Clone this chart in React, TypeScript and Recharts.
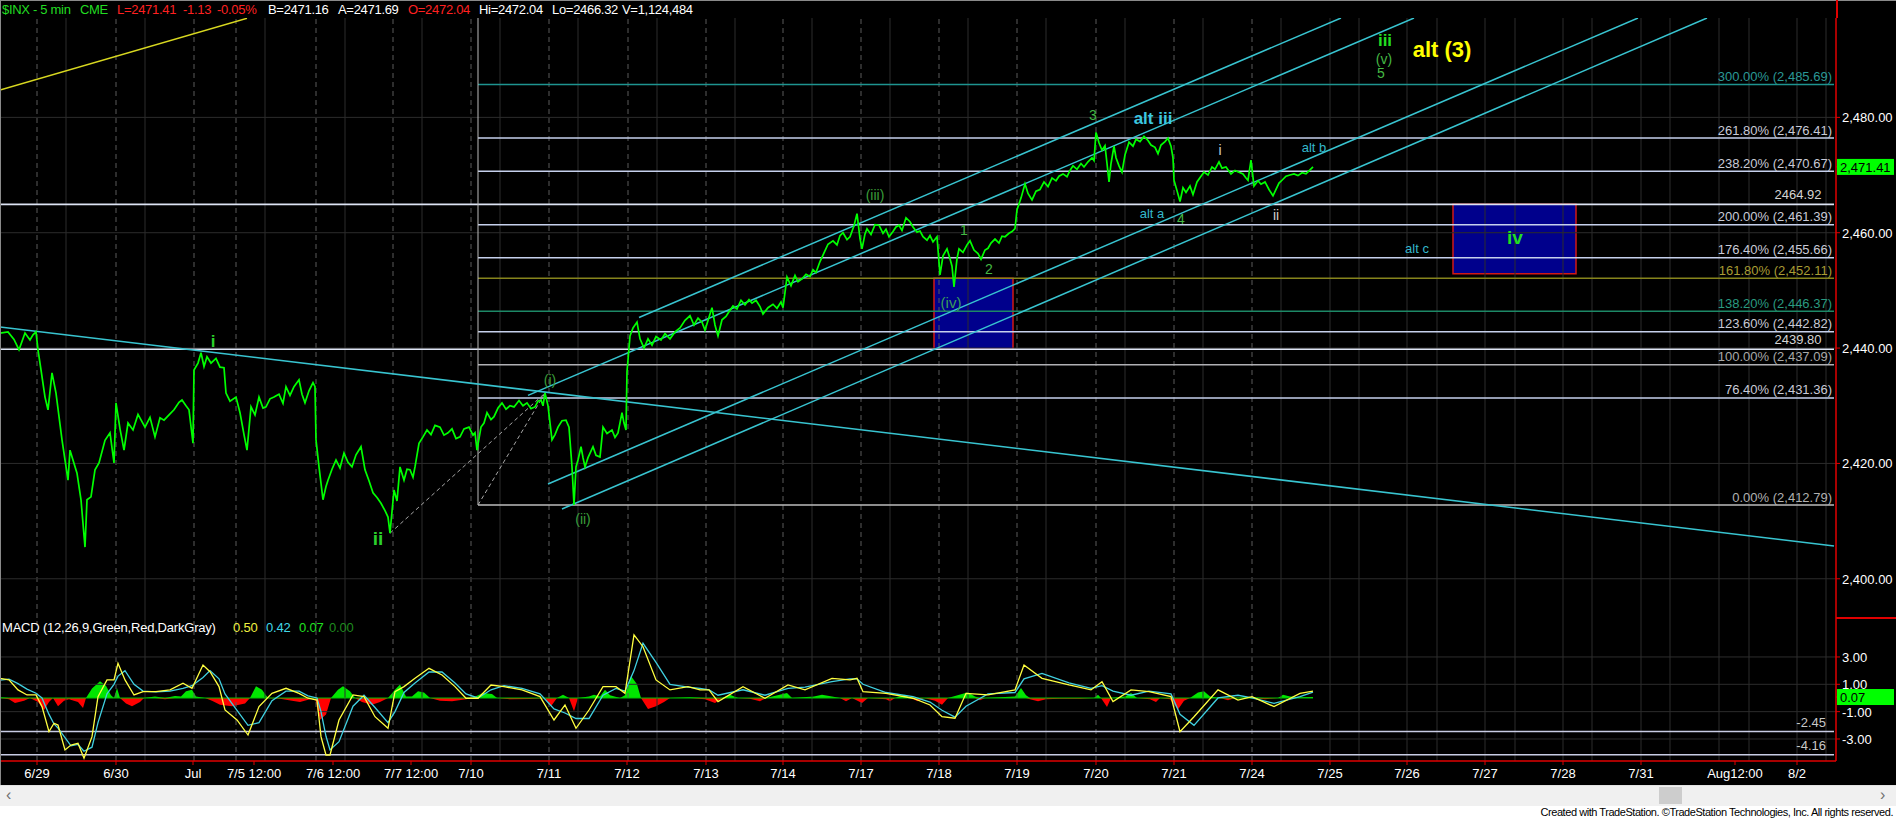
import React from "react"
import {
  ComposedChart,
  Line,
  Area,
  XAxis,
  YAxis,
  ReferenceLine,
  ReferenceArea,
  ReferenceDot,
} from "recharts"

const FONT = '"Liberation Sans", Arial, Helvetica, sans-serif'

// $INX 5-min closes: [bar number, close]  (one bar = one 5-minute period)
const inxCloses: [number, number][] = [
  [0, 2442.6], [8, 2442.8], [14, 2441.5], [19, 2439.7], [25, 2442.6], [30, 2441.4], [33, 2442.3], [36, 2442.8], [38, 2439.7], [41, 2436.2],
  [45, 2431.5], [48, 2429.3], [52, 2435.7], [56, 2432.2], [62, 2424.1], [68, 2417.1], [70, 2422.3], [77, 2418.3], [81, 2413.7], [85, 2405.5],
  [87, 2413.7], [91, 2414.2], [95, 2418.9], [99, 2420.1], [105, 2424.0], [110, 2425.3], [114, 2420.1], [116, 2430.5], [120, 2426.0], [124, 2422.3],
  [128, 2427.0], [133, 2425.8], [138, 2428.5], [145, 2426.3], [150, 2428.0], [155, 2424.6], [160, 2427.9], [164, 2427.5], [170, 2428.6], [174, 2429.3],
  [179, 2430.6], [182, 2431.0], [186, 2430.0], [189, 2429.3], [193, 2423.5], [194, 2436.2], [198, 2437.4], [201, 2439.2], [204, 2436.8], [207, 2438.5],
  [211, 2437.4], [216, 2438.2], [220, 2436.7], [224, 2436.6], [226, 2432.2], [230, 2430.8], [236, 2431.5], [240, 2428.8], [244, 2425.0], [247, 2422.3],
  [251, 2429.8], [255, 2428.4], [259, 2431.5], [263, 2429.6], [266, 2429.8], [270, 2431.2], [274, 2431.5], [279, 2432.0], [283, 2430.4], [286, 2433.3],
  [290, 2431.8], [294, 2433.3], [299, 2434.5], [302, 2432.0], [305, 2430.5], [309, 2432.6], [313, 2434.0], [315, 2433.3], [316, 2424.1], [319, 2419.4],
  [323, 2413.7], [326, 2416.0], [328, 2417.1], [332, 2419.0], [336, 2420.6], [340, 2419.2], [344, 2421.8], [348, 2420.2], [352, 2419.4], [356, 2421.5],
  [361, 2422.9], [365, 2418.9], [369, 2417.0], [373, 2414.9], [377, 2414.1], [381, 2413.1], [385, 2411.8], [388, 2410.7], [390, 2407.9], [394, 2415.4],
  [397, 2413.5], [400, 2419.4], [404, 2417.1], [407, 2419.0], [410, 2418.9], [413, 2417.6], [415, 2419.4], [419, 2423.5], [423, 2424.6], [427, 2425.8],
  [431, 2425.0], [435, 2426.6], [440, 2426.3], [444, 2424.9], [448, 2425.3], [452, 2426.0], [456, 2424.3], [460, 2424.6], [464, 2426.0], [469, 2426.3],
  [473, 2424.9], [475, 2425.3], [477, 2422.3], [481, 2426.3], [484, 2427.0], [487, 2428.8], [491, 2427.6], [494, 2428.1], [498, 2429.6], [502, 2430.5],
  [506, 2429.4], [510, 2430.0], [514, 2429.8], [519, 2430.9], [523, 2430.0], [527, 2430.5], [531, 2429.5], [535, 2429.8], [538, 2430.8], [541, 2431.0],
  [543, 2430.0], [545, 2432.2], [548, 2430.0], [552, 2424.1], [555, 2425.0], [558, 2426.3], [562, 2427.4], [566, 2427.5], [569, 2426.3], [572, 2419.4],
  [574, 2412.8], [576, 2419.4], [578, 2420.6], [581, 2422.9], [583, 2421.0], [585, 2419.4], [588, 2421.0], [593, 2422.9], [596, 2421.4], [600, 2421.1],
  [603, 2426.3], [607, 2425.2], [612, 2425.8], [615, 2424.5], [618, 2425.3], [622, 2428.8], [624, 2427.0], [626, 2425.8], [627, 2435.9], [630, 2442.1],
  [633, 2443.5], [637, 2444.5], [640, 2441.6], [644, 2440.0], [648, 2441.6], [652, 2440.5], [656, 2442.0], [661, 2441.4], [665, 2442.5], [670, 2441.6],
  [675, 2442.8], [680, 2443.5], [685, 2444.8], [690, 2445.6], [694, 2444.0], [698, 2445.2], [702, 2444.5], [705, 2443.1], [708, 2444.8], [712, 2447.0],
  [715, 2444.0], [718, 2442.1], [722, 2444.9], [726, 2445.5], [729, 2446.3], [733, 2447.3], [737, 2446.8], [741, 2448.3], [745, 2447.5], [749, 2448.4],
  [752, 2447.8], [756, 2448.3], [760, 2447.2], [763, 2445.9], [768, 2447.0], [773, 2447.6], [777, 2446.9], [781, 2448.0], [783, 2447.0], [787, 2452.3],
  [791, 2450.8], [795, 2452.6], [798, 2451.5], [802, 2452.0], [806, 2452.8], [810, 2452.4], [813, 2453.6], [816, 2453.1], [820, 2455.0], [824, 2456.5],
  [828, 2458.0], [833, 2458.6], [837, 2457.9], [840, 2459.5], [843, 2460.0], [847, 2458.8], [850, 2459.3], [854, 2461.2], [857, 2463.3], [860, 2459.0],
  [862, 2457.2], [865, 2459.8], [867, 2460.7], [871, 2459.7], [875, 2461.4], [879, 2461.3], [883, 2459.9], [886, 2460.6], [889, 2459.3], [893, 2460.2],
  [896, 2461.0], [899, 2461.3], [902, 2460.4], [906, 2462.6], [910, 2461.9], [913, 2461.0], [917, 2460.1], [920, 2460.3], [923, 2459.3], [927, 2458.7],
  [930, 2459.5], [933, 2458.4], [937, 2459.3], [940, 2452.7], [943, 2456.0], [947, 2457.2], [950, 2455.5], [952, 2454.2], [954, 2450.6], [957, 2455.5],
  [959, 2457.2], [963, 2456.6], [967, 2457.9], [970, 2458.6], [974, 2457.0], [978, 2456.4], [981, 2455.4], [985, 2457.0], [988, 2457.3], [991, 2458.2],
  [995, 2458.9], [999, 2458.2], [1002, 2459.4], [1005, 2459.3], [1009, 2459.9], [1012, 2460.2], [1015, 2460.7], [1017, 2464.0], [1021, 2466.0], [1025, 2468.5],
  [1028, 2466.8], [1032, 2465.7], [1036, 2467.2], [1040, 2467.5], [1044, 2468.8], [1048, 2468.0], [1052, 2469.5], [1056, 2469.0], [1059, 2469.8], [1063, 2470.2],
  [1067, 2469.7], [1070, 2470.8], [1073, 2471.6], [1077, 2471.0], [1081, 2472.0], [1084, 2471.4], [1088, 2472.3], [1092, 2473.0], [1094, 2472.5], [1096, 2477.4],
  [1099, 2475.6], [1102, 2474.3], [1105, 2475.1], [1107, 2472.0], [1109, 2468.8], [1111, 2472.0], [1114, 2475.0], [1116, 2473.0], [1119, 2471.6], [1122, 2470.5],
  [1125, 2473.5], [1129, 2475.7], [1133, 2475.0], [1136, 2476.2], [1140, 2475.8], [1144, 2476.7], [1148, 2476.0], [1151, 2475.2], [1155, 2474.8], [1158, 2473.7],
  [1161, 2475.2], [1165, 2475.8], [1168, 2476.4], [1171, 2475.0], [1173, 2473.0], [1174, 2469.1], [1177, 2467.3], [1180, 2465.4], [1183, 2467.8], [1186, 2467.0],
  [1190, 2468.1], [1193, 2466.6], [1197, 2468.8], [1201, 2469.8], [1204, 2470.5], [1208, 2470.0], [1212, 2471.4], [1215, 2471.0], [1219, 2472.3], [1222, 2471.2],
  [1226, 2471.4], [1231, 2470.2], [1235, 2470.8], [1239, 2470.5], [1243, 2470.2], [1246, 2469.5], [1248, 2469.1], [1251, 2472.6], [1254, 2468.1], [1258, 2469.0],
  [1261, 2468.4], [1265, 2468.8], [1269, 2467.5], [1273, 2466.4], [1276, 2467.5], [1279, 2468.6], [1282, 2469.1], [1286, 2469.8], [1290, 2470.0], [1294, 2470.2],
  [1298, 2469.9], [1302, 2470.4], [1306, 2470.2], [1310, 2470.9], [1313, 2471.41],
]

// MACD(12,26,9): [bar, macd, signal]
const macdLines: [number, number, number][] = [
  [0, 1.44, 1.3], [9, 1.32, 1.38], [18, 0.59, 1.05], [27, 0.22, 0.65], [36, 0.22, 0.35], [42, -0.63, 0.0], [49, -2.46, -1.2], [54, -1.85, -1.9],
  [58, -1.98, -2.2], [65, -3.8, -2.9], [71, -3.44, -3.5], [78, -3.32, -3.4], [84, -4.41, -3.9], [92, -2.83, -3.6], [98, 0.1, -1.8], [107, 1.32, 0.3],
  [114, 1.32, 1.0], [118, 2.54, 1.6], [125, 1.32, 2.0], [134, 0.22, 1.0], [143, 0.46, 0.5], [156, 0.46, 0.45], [170, 0.59, 0.5], [183, 1.08, 0.7],
  [192, 0.71, 0.9], [203, 2.41, 1.5], [210, 1.92, 2.0], [219, 0.83, 1.4], [225, -0.88, 0.3], [237, -1.61, -0.9], [248, -2.71, -2.0], [259, -0.63, -1.8],
  [272, 0.34, -0.2], [286, 0.71, 0.5], [299, 0.34, 0.5], [308, -0.02, 0.15], [317, -0.15, 0.0], [321, -2.83, -1.0], [326, -4.17, -2.8], [330, -4.17, -3.8],
  [339, -1.61, -3.2], [353, 0.22, -0.6], [364, 0.1, 0.2], [375, -1.37, -0.7], [388, -2.22, -1.8], [395, 0.46, -1.0], [404, 0.83, 0.4], [415, 1.44, 1.1],
  [429, 2.17, 1.9], [442, 1.68, 1.9], [455, 0.83, 1.1], [466, -0.02, 0.3], [478, -0.02, 0.0], [491, 0.95, 0.6], [504, 0.83, 0.9], [522, 0.59, 0.7],
  [540, 0.1, 0.3], [554, -1.61, -0.8], [565, -0.51, -1.1], [576, -2.22, -1.5], [589, -0.88, -1.5], [603, 0.83, 0.2], [616, 0.83, 0.7], [625, 0.34, 0.5],
  [634, 4.61, 2.0], [643, 3.75, 4.0], [656, 1.32, 2.6], [670, 0.59, 1.0], [688, 0.83, 0.8], [700, 0.59, 0.7], [709, 0.59, 0.6], [718, -0.27, 0.2],
  [743, 0.83, 0.6], [765, -0.02, 0.2], [788, 0.95, 0.7], [805, 0.59, 0.8], [832, 1.44, 1.2], [850, 1.32, 1.4], [857, 1.44, 1.4], [863, 0.46, 1.0],
  [886, 0.34, 0.4], [913, -0.02, 0.1], [930, -0.51, -0.3], [942, -1.37, -0.9], [955, -1.48, -1.4], [966, 0.34, -0.6], [988, 0.22, 0.3], [1015, 0.59, 0.4],
  [1024, 2.41, 1.4], [1042, 1.44, 1.8], [1069, 0.95, 1.1], [1091, 0.59, 0.7], [1102, 1.19, 0.9], [1113, -0.27, 0.5], [1131, 0.59, 0.2], [1149, 0.46, 0.5],
  [1171, 0.1, 0.3], [1180, -2.46, -1.2], [1194, -1.37, -2.0], [1218, 0.59, 0.0], [1238, -0.15, 0.2], [1252, 0.1, 0.0], [1274, -0.63, -0.4], [1300, 0.34, 0.1],
  [1313, 0.5, 0.42],
]

// MACD difference histogram: [bar, diff]
const macdDiff: [number, number][] = [
  [0, 0.05], [9, -0.1], [15, -0.37], [24, -0.2], [30, 0], [38, -0.3], [44, -0.88], [49, -0.3], [53, 0], [58, -0.6],
  [64, -0.2], [69, -0.1], [78, -0.3], [83, -0.73], [86, 0], [92, 0.7], [100, 1.22], [106, 0.9], [111, 0.2], [114, 0],
  [117, 0.73], [120, 0], [126, -0.4], [132, -0.6], [140, -0.3], [144, 0], [155, 0.1], [165, -0.1], [175, 0.15], [181, 0.1],
  [186, 0.49], [192, 0.6], [196, 0.1], [205, 0], [212, -0.2], [220, -0.5], [232, -0.6], [245, -0.4], [250, 0], [256, 0.85],
  [262, 0.6], [268, 0], [280, -0.05], [292, -0.2], [300, -0.3], [310, -0.1], [315, 0], [320, -1.59], [326, -1.2], [331, 0],
  [338, 0.6], [343, 0.85], [350, 0.5], [355, 0], [362, -0.3], [372, -0.49], [380, -0.3], [388, 0], [395, 0.6], [400, 0.98],
  [406, 0.1], [412, 0.1], [418, 0.49], [424, 0.4], [430, 0], [440, -0.2], [452, -0.24], [466, -0.1], [472, 0], [483, 0.37],
  [492, 0.3], [497, 0], [510, -0.1], [530, -0.08], [545, 0], [551, -0.61], [557, 0], [563, 0.24], [569, 0], [574, -0.98],
  [578, 0], [589, 0.1], [594, 0.24], [600, 0.1], [605, 0.6], [610, 0.2], [620, 0], [625, 0.2], [631, 1.6], [637, 1.0],
  [641, 0], [648, -0.8], [656, -0.6], [664, -0.3], [670, 0], [690, 0.05], [705, -0.1], [715, -0.37], [722, 0], [730, 0.24],
  [738, 0], [750, -0.05], [760, -0.24], [766, 0], [787, 0.37], [792, 0], [814, 0.1], [822, 0.24], [832, 0.1], [840, 0],
  [846, -0.24], [852, 0], [862, -0.37], [868, 0], [886, -0.1], [890, -0.24], [895, 0], [905, 0.24], [910, 0], [918, -0.24],
  [924, 0], [935, -0.2], [942, -0.49], [948, 0], [962, 0.3], [968, 0.41], [975, 0.1], [980, -0.17], [985, 0], [1000, 0.05],
  [1015, 0.1], [1021, 0.73], [1026, 0.2], [1030, -0.1], [1038, -0.24], [1046, -0.1], [1060, -0.05], [1080, -0.05], [1094, 0], [1098, 0.24],
  [1101, 0], [1107, -0.66], [1111, 0], [1125, 0.1], [1131, 0.37], [1137, 0], [1150, -0.1], [1156, -0.29], [1160, 0], [1170, -0.1],
  [1178, -0.85], [1184, -0.2], [1190, 0], [1198, 0.4], [1204, 0.49], [1210, 0.1], [1220, 0], [1228, -0.17], [1235, 0], [1250, 0.05],
  [1265, -0.1], [1278, 0], [1283, 0.24], [1290, 0.1], [1300, 0.05], [1313, 0.07],
]

const lastPrice = 2471.41
const lastDiff = 0.07
const priceTicks = [2400, 2420, 2440, 2460, lastPrice, 2480]
const macdTicks = [-3, -1, lastDiff, 1, 3]
const macdBands = [-2.45, -4.16]

// Fibonacci extension levels
const fibLabels = ["300.00%", "261.80%", "238.20%", "200.00%", "176.40%", "161.80%", "138.20%", "123.60%", "100.00%", "76.40%", "0.00%"]
const fibLevels = [2485.69, 2476.41, 2470.67, 2461.39, 2455.66, 2452.11, 2446.37, 2442.82, 2437.09, 2431.36, 2412.79]
const fibStartBar = 478
const keyLevels = [2464.92, 2439.8]

// trendlines: [bar1, price1, bar2, price2]
const yellowLine = [0, 2484.75, 247, 2497.18]
const fallingLine = [0, 2443.66, 1834, 2405.69]
const channelLines = [
  [639, 2445.31, 1341, 2497.23],
  [528, 2431.8, 1414, 2497.23],
  [548, 2416.44, 1638, 2497.23],
  [562, 2412.1, 1707, 2497.23],
]
const fibAnchors = [
  [390, 2407.9, 545, 2432.2],
  [478, 2412.79, 545, 2432.2],
]

// target boxes: [bar1, bar2, low, high]
const targetBoxes = [
  [934, 1013, 2439.8, 2452.11],
  [1453, 1576, 2452.9, 2464.92],
]

// wave counts
const waveTexts = ["i", "ii", "(i)", "(ii)", "(iii)", "(iv)", "1", "2", "3", "alt iii", "i", "alt b", "alt a", "4", "ii", "alt c", "iv", "iii", "(v)", "5", "alt (3)"]
const waveBars = [213, 378, 550, 583, 875, 951, 964, 989, 1093, 1153, 1220, 1314, 1152, 1181, 1276, 1417, 1515, 1385, 1384, 1381, 1442]
const wavePrices = [2441.1, 2407.0, 2434.4, 2410.4, 2466.5, 2447.9, 2460.4, 2453.7, 2480.4, 2479.8, 2474.3, 2474.8, 2463.3, 2462.4, 2463.1, 2457.2, 2459.2, 2493.3, 2490.1, 2487.7, 2491.8]

// session boundaries / midday lines (bar numbers)
const sessionStarts = [37, 116, 194, 236, 316, 393, 471, 549, 628, 706, 783, 861, 939, 1017, 1096, 1174, 1252]
const middayBars = [66, 145, 265, 345, 422, 500, 578, 657, 735, 812, 890, 968, 1046, 1125, 1203, 1281]
const futureBars = [1330, 1359, 1407, 1437, 1485, 1515, 1563, 1592, 1641, 1670, 1719, 1749, 1797, 1826]

const dateTickBars = [37, 116, 193, 254, 333, 411, 471, 549, 627, 706, 783, 861, 939, 1017, 1096, 1174, 1252, 1330, 1407, 1485, 1563, 1641, 1735, 1797]
const dateTickLabels = ["6/29", "6/30", "Jul", "7/5 12:00", "7/6 12:00", "7/7 12:00", "7/10", "7/11", "7/12", "7/13", "7/14", "7/17", "7/18", "7/19", "7/20", "7/21", "7/24", "7/25", "7/26", "7/27", "7/28", "7/31", "Aug12:00", "8/2"]

// styles
const LAV = "#c6d0ec"
const FIB_STROKE = ["#1e9490", LAV, LAV, LAV, LAV, "#86841c", "#1d8866", LAV, "#b0b0b4", LAV, "#bcbcbc"]
const FIB_TEXT = ["#2a9896", "#c8cad6", "#c8cad6", "#c8cad6", "#c8cad6", "#a89c34", "#2a9a80", "#c8cad6", "#a8a8a8", "#c8cad6", "#b0b0b0"]
const CYAN = "#38c4d0"
const WAVE_STYLE: [string, number, string][] = [
  ["#2bd12b", 17, "bold"], ["#2bd12b", 19, "bold"], ["#3a9e3a", 14, "normal"], ["#3a9e3a", 14, "normal"], ["#3a9e3a", 14, "normal"],
  ["#3a9e5a", 15, "normal"], ["#44b844", 14, "normal"], ["#44b844", 14, "normal"], ["#44b844", 14, "normal"], ["#3cc8e0", 17, "bold"],
  ["#d0d0d0", 14, "normal"], ["#34b8cc", 13, "normal"], ["#34b8cc", 13, "normal"], ["#44b844", 14, "normal"], ["#d0d0d0", 14, "normal"],
  ["#34b8cc", 13, "normal"], ["#22dd22", 19, "bold"], ["#22dd22", 17, "bold"], ["#44b844", 14, "normal"], ["#44b844", 14, "normal"],
  ["#ffff00", 22, "bold"],
]

const fmt2 = (v: number) => v.toLocaleString("en-US", { minimumFractionDigits: 2, maximumFractionDigits: 2 })

function textShape(text: string, fill: string, size: number, weight: string, anchor: string, dy: number) {
  return (p: any) => (
    <text
      x={p.cx}
      y={p.cy + dy}
      fill={fill}
      fontSize={size}
      fontWeight={weight}
      fontFamily={FONT}
      textAnchor={anchor}
      dominantBaseline="central"
    >
      {text}
    </text>
  )
}

function PriceTick(props: any) {
  const { x, y, payload } = props
  const v = payload.value
  if (v === lastPrice) {
    return (
      <g>
        <rect x={x - 5} y={y - 8} width={57} height={16} fill="#00ff00" />
        <text x={x - 2} y={y + 5} fill="#000" fontSize={13} fontFamily={FONT}>{fmt2(v)}</text>
      </g>
    )
  }
  return <text x={x} y={y + 5} fill="#fff" fontSize={13} fontFamily={FONT}>{fmt2(v)}</text>
}

function MacdTick(props: any) {
  const { x, y, payload } = props
  const v = payload.value
  if (v === lastDiff) {
    return (
      <g>
        <rect x={x - 5} y={y - 8} width={57} height={16} fill="#00ff00" />
        <text x={x - 2} y={y + 5} fill="#000" fontSize={13} fontFamily={FONT}>{v.toFixed(2)}</text>
      </g>
    )
  }
  return <text x={x} y={y + 5} fill="#fff" fontSize={13} fontFamily={FONT}>{v.toFixed(2)}</text>
}

function verticalGrid(prefix: string) {
  return [
    ...middayBars.map((b) => <ReferenceLine key={prefix + "m" + b} x={b} stroke="#2c2c2c" strokeWidth={1} />),
    ...futureBars.map((b) => <ReferenceLine key={prefix + "f" + b} x={b} stroke="#2c2c2c" strokeWidth={1} />),
    ...sessionStarts.map((b) => (
      <ReferenceLine key={prefix + "s" + b} x={b} stroke="#5a5a5a" strokeWidth={1} strokeDasharray="5 4" />
    )),
  ]
}

const titleParts: [string, number, string][] = [
  ["$INX - 5 min", 2, "#22dd22"],
  ["CME", 80, "#22dd22"],
  ["L=2471.41", 117, "#ff2020"],
  ["-1.13", 183, "#ff2020"],
  ["-0.05%", 217, "#ff2020"],
  ["B=2471.16", 268, "#ffffff"],
  ["A=2471.69", 338, "#ffffff"],
  ["O=2472.04", 408, "#ff2020"],
  ["Hi=2472.04", 479, "#ffffff"],
  ["Lo=2466.32", 552, "#ffffff"],
  ["V=1,124,484", 622, "#ffffff"],
]

const macdTitle: [string, number, string][] = [
  ["MACD (12,26,9,Green,Red,DarkGray)", 2, "#ffffff"],
  ["0.50", 233, "#f0f040"],
  ["0.42", 266, "#40d8e8"],
  ["0.07", 299, "#20e020"],
  ["0.00", 329, "#1f8a1f"],
]

export default function App() {
  const priceRows = inxCloses.map(([bar, close]) => ({ bar, close }))
  const macdRows = macdLines.map(([bar, macd, signal]) => ({ bar, macd, signal }))
  const histRows = macdDiff.map(([bar, v]) => ({ bar, up: Math.max(v, 0), down: Math.min(v, 0) }))

  return (
    <div
      style={{
        position: "absolute",
        left: 0,
        top: 0,
        width: 1896,
        height: 820,
        background: "#fff",
        overflow: "hidden",
        fontFamily: FONT,
      }}
    >
      <div style={{ position: "absolute", left: 0, top: 0, width: 1896, height: 785, background: "#000" }} />

      {/* price panel */}
      <div style={{ position: "absolute", left: 0, top: 0 }}>
        <ComposedChart width={1896} height={618} margin={{ top: 18, right: 0, bottom: 0, left: 0 }}>
          <XAxis type="number" dataKey="bar" domain={[0, 1836]} hide allowDataOverflow />
          <YAxis
            orientation="right"
            type="number"
            domain={[2393.2, 2497.23]}
            ticks={priceTicks}
            interval={0}
            width={60}
            allowDataOverflow
            axisLine={{ stroke: "#e00000", strokeWidth: 1.5 }}
            tickLine={{ stroke: "#e00000" }}
            tickSize={4}
            tickMargin={2}
            tick={<PriceTick />}
          />
          {verticalGrid("p")}
          {[2400, 2420, 2440, 2460, 2480].map((v) => (
            <ReferenceLine key={"h" + v} y={v} stroke="#2c2c2c" strokeWidth={1} />
          ))}

          {targetBoxes.map(([x1, x2, y1, y2], i) => (
            <ReferenceArea
              key={"box" + i}
              x1={x1}
              x2={x2}
              y1={y1}
              y2={y2}
              fill="#00008c"
              fillOpacity={1}
              stroke="#d01818"
              strokeWidth={1.5}
              ifOverflow="hidden"
            />
          ))}

          {keyLevels.map((v) => (
            <ReferenceLine
              key={"k" + v}
              segment={[{ x: 0, y: v }, { x: 1834, y: v }]}
              stroke="#dde4f4"
              strokeWidth={1.6}
              ifOverflow="hidden"
            />
          ))}
          {fibLevels.map((v, i) => (
            <ReferenceLine
              key={"fib" + i}
              segment={[{ x: fibStartBar, y: v }, { x: 1834, y: v }]}
              stroke={FIB_STROKE[i]}
              strokeWidth={1.5}
              ifOverflow="hidden"
            />
          ))}
          <ReferenceLine
            segment={[{ x: fibStartBar, y: fibLevels[10] }, { x: fibStartBar, y: 2497.23 }]}
            stroke="#bcbcbc"
            strokeWidth={1}
            ifOverflow="hidden"
          />
          {fibAnchors.map(([a, b, c, d], i) => (
            <ReferenceLine
              key={"fa" + i}
              segment={[{ x: a, y: b }, { x: c, y: d }]}
              stroke="#a8a8a8"
              strokeWidth={1}
              strokeDasharray="4 3"
              ifOverflow="hidden"
            />
          ))}

          <ReferenceLine
            segment={[{ x: yellowLine[0], y: yellowLine[1] }, { x: yellowLine[2], y: yellowLine[3] }]}
            stroke="#d8d820"
            strokeWidth={1.5}
            ifOverflow="hidden"
          />
          <ReferenceLine
            segment={[{ x: fallingLine[0], y: fallingLine[1] }, { x: fallingLine[2], y: fallingLine[3] }]}
            stroke={CYAN}
            strokeWidth={1.6}
            ifOverflow="hidden"
          />
          {channelLines.map(([a, b, c, d], i) => (
            <ReferenceLine
              key={"ch" + i}
              segment={[{ x: a, y: b }, { x: c, y: d }]}
              stroke={CYAN}
              strokeWidth={1.5}
              ifOverflow="hidden"
            />
          ))}

          <Line
            data={priceRows}
            dataKey="close"
            type="linear"
            stroke="#00ff00"
            strokeWidth={1.7}
            dot={false}
            isAnimationActive={false}
          />

          {fibLevels.map((v, i) => (
            <ReferenceDot
              key={"fl" + i}
              x={1832}
              y={v}
              r={1}
              shape={textShape(`${fibLabels[i]} (${fmt2(v)})`, FIB_TEXT[i], 13, "normal", "end", -8)}
            />
          ))}
          {keyLevels.map((v) => (
            <ReferenceDot
              key={"kl" + v}
              x={1798}
              y={v}
              r={1}
              shape={textShape(v.toFixed(2), "#d4d4d4", 13, "normal", "middle", -10)}
            />
          ))}
          {waveTexts.map((t, i) => (
            <ReferenceDot
              key={"w" + i}
              x={waveBars[i]}
              y={wavePrices[i]}
              r={1}
              shape={textShape(t, WAVE_STYLE[i][0], WAVE_STYLE[i][1], WAVE_STYLE[i][2], "middle", 0)}
            />
          ))}
        </ComposedChart>
      </div>

      {/* MACD panel */}
      <div style={{ position: "absolute", left: 0, top: 618 }}>
        <ComposedChart width={1896} height={167} margin={{ top: 0, right: 0, bottom: 0, left: 0 }}>
          <XAxis
            type="number"
            dataKey="bar"
            domain={[0, 1836]}
            allowDataOverflow
            ticks={dateTickBars}
            interval={0}
            height={24}
            tickFormatter={(v: number) => dateTickLabels[dateTickBars.indexOf(v)] ?? ""}
            axisLine={{ stroke: "#e00000", strokeWidth: 1.5 }}
            tickLine={{ stroke: "#e00000" }}
            tickSize={4}
            tickMargin={4}
            tick={{ fill: "#ffffff", fontSize: 13, fontFamily: FONT }}
          />
          <YAxis
            orientation="right"
            type="number"
            domain={[-4.61, 5.85]}
            ticks={macdTicks}
            interval={0}
            width={60}
            allowDataOverflow
            axisLine={{ stroke: "#e00000", strokeWidth: 1.5 }}
            tickLine={{ stroke: "#e00000" }}
            tickSize={4}
            tickMargin={2}
            tick={<MacdTick />}
          />
          {verticalGrid("m")}
          {[3, 1, -1, -3].map((v) => (
            <ReferenceLine key={"mh" + v} y={v} stroke="#2c2c2c" strokeWidth={1} />
          ))}
          {macdBands.map((v) => (
            <ReferenceLine
              key={"band" + v}
              segment={[{ x: 0, y: v }, { x: 1834, y: v }]}
              stroke="#c8cce4"
              strokeWidth={1.5}
              ifOverflow="hidden"
            />
          ))}
          <Area
            data={histRows}
            dataKey="up"
            type="linear"
            baseValue={0}
            stroke="none"
            fill="#00e600"
            fillOpacity={1}
            isAnimationActive={false}
          />
          <Area
            data={histRows}
            dataKey="down"
            type="linear"
            baseValue={0}
            stroke="none"
            fill="#ff0000"
            fillOpacity={1}
            isAnimationActive={false}
          />
          <ReferenceLine segment={[{ x: 0, y: 0 }, { x: 1313, y: 0 }]} stroke="#00c000" strokeWidth={1.2} />
          <Line
            data={macdRows}
            dataKey="signal"
            type="linear"
            stroke="#40d0e0"
            strokeWidth={1.3}
            dot={false}
            isAnimationActive={false}
          />
          <Line
            data={macdRows}
            dataKey="macd"
            type="linear"
            stroke="#ffff40"
            strokeWidth={1.3}
            dot={false}
            isAnimationActive={false}
          />
          {macdBands.map((v) => (
            <ReferenceDot
              key={"bl" + v}
              x={1826}
              y={v}
              r={1}
              shape={textShape(v.toFixed(2), "#c8c8c8", 13, "normal", "end", -9)}
            />
          ))}
        </ComposedChart>
      </div>

      {/* frame pieces */}
      <div style={{ position: "absolute", left: 0, top: 0, width: 1896, height: 1, background: "#8a8a8a" }} />
      <div style={{ position: "absolute", left: 0, top: 0, width: 1, height: 785, background: "#8a8a8a" }} />
      <div style={{ position: "absolute", left: 1836, top: 0, width: 2, height: 18, background: "#e00000" }} />
      <div style={{ position: "absolute", left: 1836, top: 617, width: 60, height: 2, background: "#e00000" }} />

      {/* header text */}
      {titleParts.map(([t, x, c]) => (
        <div
          key={t + x}
          style={{
            position: "absolute",
            left: x,
            top: 2,
            color: c,
            fontSize: 13,
            letterSpacing: "-0.3px",
            lineHeight: "15px",
            whiteSpace: "nowrap",
          }}
        >
          {t}
        </div>
      ))}
      {macdTitle.map(([t, x, c]) => (
        <div
          key={t + x}
          style={{
            position: "absolute",
            left: x,
            top: 621,
            color: c,
            fontSize: 13,
            letterSpacing: "-0.2px",
            lineHeight: "14px",
            whiteSpace: "nowrap",
          }}
        >
          {t}
        </div>
      ))}

      {/* scrollbar + footer */}
      <div style={{ position: "absolute", left: 0, top: 785, width: 1896, height: 20, background: "#f0f0f0", borderTop: "1px solid #e2e2e2" }} />
      <div style={{ position: "absolute", left: 6, top: 785, color: "#707070", fontSize: 16, lineHeight: "20px" }}>‹</div>
      <div style={{ position: "absolute", left: 1880, top: 785, color: "#707070", fontSize: 16, lineHeight: "20px" }}>›</div>
      <div style={{ position: "absolute", left: 1659, top: 787, width: 23, height: 17, background: "#cdcdcd" }} />
      <div
        style={{
          position: "absolute",
          right: 3,
          top: 805,
          height: 14,
          color: "#000",
          fontSize: 11,
          lineHeight: "14px",
          letterSpacing: "-0.45px",
          whiteSpace: "nowrap",
        }}
      >
        Created with TradeStation. ©TradeStation Technologies, Inc. All rights reserved.
      </div>
    </div>
  )
}
